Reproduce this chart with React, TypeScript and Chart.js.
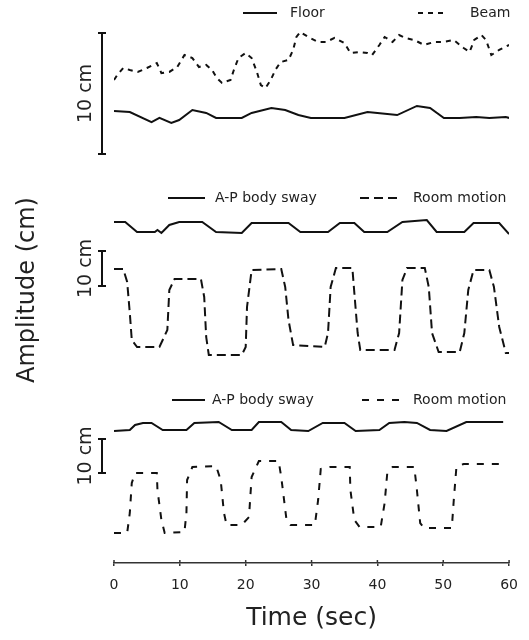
import React, { useEffect, useRef } from "react";
import { Chart, registerables } from "chart.js";

Chart.register(...registerables);

// ---------- Data (time in sec, amplitude in cm) ----------
// Panel 1
const floorTime = [0, 2.4, 5.7, 6.9, 8.7, 9.9, 11.9, 14.0, 15.5, 19.4, 20.9, 23.9, 26.0, 28.0, 29.9, 32.9, 35.0, 38.5, 40.0, 43.0, 46.0, 48.0, 50.1, 52.5, 55.0, 57.0, 59.5, 60];
const floorCm = [3.55, 3.47, 2.64, 2.98, 2.56, 2.81, 3.64, 3.39, 2.98, 2.98, 3.39, 3.8, 3.64, 3.22, 2.98, 2.98, 2.98, 3.47, 3.39, 3.22, 3.97, 3.8, 2.98, 2.98, 3.06, 2.98, 3.06, 2.98];

const beamTime = [0, 0.5, 1.4, 2.4, 3.6, 5.0, 6.5, 7.2, 8.4, 9.6, 10.7, 11.9, 12.9, 14.0, 14.9, 15.6, 16.4, 17.7, 18.2, 18.9, 20.0, 20.9, 21.7, 22.3, 23.0, 23.8, 24.5, 25.3, 26.5, 27.2, 27.7, 28.3, 29.5, 31.0, 32.2, 33.5, 35.0, 35.9, 37.3, 38.5, 39.2, 40.3, 41.1, 42.3, 43.3, 44.2, 45.6, 47.1, 48.6, 50.1, 51.6, 53.1, 54.0, 54.7, 55.8, 56.5, 57.3, 58.5, 60];
const beamCm = [6.12, 6.53, 7.11, 6.94, 6.78, 7.11, 7.52, 6.69, 6.78, 7.19, 8.18, 7.93, 7.19, 7.36, 6.94, 6.28, 5.87, 6.12, 6.94, 7.93, 8.35, 7.93, 6.78, 5.7, 5.45, 6.12, 6.94, 7.6, 7.77, 8.6, 9.67, 10.08, 9.67, 9.26, 9.26, 9.59, 9.17, 8.35, 8.43, 8.35, 8.18, 9.01, 9.67, 9.26, 9.83, 9.59, 9.42, 9.01, 9.26, 9.26, 9.42, 8.76, 8.43, 9.42, 9.83, 9.42, 8.18, 8.6, 9.01];

// Panel 2
const sway2Time = [0, 1.7, 3.5, 6.2, 6.6, 7.2, 8.4, 9.9, 13.4, 15.5, 19.4, 20.9, 26.5, 28.3, 32.5, 34.3, 36.5, 38.0, 41.5, 43.8, 47.5, 49.0, 53.2, 54.6, 58.5, 60];
const sway2Cm = [18.29, 18.29, 15.43, 15.43, 16.0, 15.14, 17.43, 18.29, 18.29, 15.43, 15.14, 18.0, 18.0, 15.43, 15.43, 18.0, 18.0, 15.43, 15.43, 18.29, 18.86, 15.43, 15.43, 18.0, 18.0, 14.86];

const room2Time = [0, 1.4, 2.0, 2.4, 2.7, 3.5, 6.9, 8.1, 8.4, 9.2, 13.2, 13.7, 14.0, 14.4, 19.4, 20.0, 20.2, 20.9, 25.4, 26.0, 26.5, 27.2, 32.0, 32.5, 32.9, 33.7, 36.2, 36.5, 37.0, 37.4, 42.6, 43.3, 43.8, 44.5, 47.2, 47.8, 48.3, 49.3, 52.5, 53.2, 53.8, 54.6, 57.0, 57.7, 58.5, 59.5, 60];
const room2Cm = [4.86, 4.86, 1.14, -7.71, -15.43, -17.43, -17.43, -12.57, -1.14, 2.0, 2.0, -3.14, -14.57, -19.71, -19.71, -17.43, -6.0, 4.57, 4.86, -0.29, -9.71, -16.86, -17.43, -13.43, -0.29, 5.14, 5.14, -2.0, -13.43, -18.29, -18.29, -13.43, 1.71, 5.14, 5.14, -0.29, -13.43, -18.86, -18.86, -13.43, -1.14, 4.57, 4.57, -0.29, -11.71, -19.14, -19.14];

// Panel 3
const sway3Time = [0, 2.4, 3.2, 4.4, 5.7, 7.4, 11.0, 12.2, 15.9, 17.9, 20.9, 22.0, 25.4, 26.9, 29.5, 31.7, 35.0, 36.7, 40.3, 41.8, 44.1, 46.0, 48.0, 50.5, 53.5, 59.1];
const sway3Cm = [12.35, 12.65, 14.12, 14.71, 14.71, 12.65, 12.65, 14.71, 15.0, 12.65, 12.65, 15.0, 15.0, 12.65, 12.35, 14.71, 14.71, 12.35, 12.65, 14.71, 15.0, 14.71, 12.65, 12.35, 15.0, 15.0];

const room3Time = [0, 2.0, 2.4, 2.7, 3.2, 6.5, 6.6, 7.2, 7.7, 10.7, 11.0, 11.1, 11.9, 15.5, 16.2, 16.7, 17.1, 19.4, 20.5, 20.9, 22.0, 25.0, 25.4, 26.2, 26.8, 30.5, 31.0, 31.4, 32.8, 35.8, 35.9, 36.5, 37.3, 40.5, 41.1, 41.5, 42.3, 45.6, 46.0, 46.5, 47.1, 51.3, 51.6, 52.0, 53.1, 59.1];
const room3Cm = [-17.65, -17.65, -11.76, -2.94, 0, 0, -5.0, -13.82, -17.65, -17.35, -11.76, -2.06, 1.76, 2.06, -2.06, -11.76, -15.29, -15.29, -12.94, -1.18, 3.53, 3.53, -1.18, -13.82, -15.29, -15.29, -7.94, 1.18, 1.76, 1.76, -5.0, -13.82, -15.88, -15.88, -8.82, 0, 1.76, 1.76, -5.0, -14.71, -16.18, -16.18, -7.94, 1.76, 2.65, 2.65];

const xTicksStep = 10;
const scaleBarCm = [0, 10];
const scaleBarLabel = "10 cm";
const yTitle = "Amplitude (cm)";
const xTitle = "Time (sec)";

// ---------- Layout (pixels) ----------
const W = 529;
const H = 640;
const AREA_TOP = 20;
const AREA_LEFT = 114;
const AREA_RIGHT = 513;
const X_AXIS_HEIGHT = 77;
const AREA_BOTTOM = H - X_AXIS_HEIGHT;

// each panel: pixel of 0 cm, pixels per cm
const PANELS = [
  { id: "y1", zeroPx: 154, pxPerCm: 12.1 },
  { id: "y2", zeroPx: 286, pxPerCm: 3.5 },
  { id: "y3", zeroPx: 473, pxPerCm: 3.4 },
];

const LEGENDS = [
  { y: 13, items: [{ ds: 0, x1: 243, x2: 277, tx: 290 }, { ds: 1, x1: 418, x2: 447, tx: 470 }] },
  { y: 198, items: [{ ds: 2, x1: 168, x2: 205, tx: 215 }, { ds: 3, x1: 360, x2: 397, tx: 413 }] },
  { y: 400, items: [{ ds: 4, x1: 172, x2: 205, tx: 212 }, { ds: 5, x1: 362, x2: 405, tx: 413 }] },
];

const FONT = "'DejaVu Sans', 'Noto Sans', sans-serif";
const INK = "#111";
const TEXT = "#222";
const BAR_X = 102;
const BAR_LABEL_X = 86;

const zip = (t: number[], v: number[]) => t.map((x, i) => ({ x, y: v[i] }));

const range = (p: { zeroPx: number; pxPerCm: number }) => ({
  min: (p.zeroPx - AREA_BOTTOM) / p.pxPerCm,
  max: (p.zeroPx - AREA_TOP) / p.pxPerCm,
});

const panelsPlugin = {
  id: "panelsPlugin",
  afterDraw(chart: any) {
    const ctx = chart.ctx as CanvasRenderingContext2D;
    ctx.save();

    // upward half of x tick marks
    const xs = chart.scales.x;
    ctx.strokeStyle = "#333";
    ctx.lineWidth = 1.5;
    ctx.setLineDash([]);
    xs.ticks.forEach((t: any) => {
      const px = xs.getPixelForValue(t.value);
      ctx.beginPath();
      ctx.moveTo(px, xs.top - 3);
      ctx.lineTo(px, xs.top);
      ctx.stroke();
    });

    // panel legends
    LEGENDS.forEach((lg) => {
      lg.items.forEach((it) => {
        const ds = chart.data.datasets[it.ds];
        ctx.strokeStyle = ds.borderColor;
        ctx.lineWidth = ds.borderWidth;
        ctx.setLineDash(ds.borderDash || []);
        ctx.beginPath();
        ctx.moveTo(it.x1, lg.y);
        ctx.lineTo(it.x2, lg.y);
        ctx.stroke();
        ctx.setLineDash([]);
        ctx.fillStyle = TEXT;
        ctx.font = `14px ${FONT}`;
        ctx.textAlign = "left";
        ctx.textBaseline = "middle";
        ctx.fillText(ds.label, it.tx, lg.y);
      });
    });

    // scale bars
    PANELS.forEach((p) => {
      const s = chart.scales[p.id];
      const a = s.getPixelForValue(scaleBarCm[0]);
      const b = s.getPixelForValue(scaleBarCm[1]);
      ctx.strokeStyle = INK;
      ctx.lineWidth = 2;
      ctx.beginPath();
      ctx.moveTo(BAR_X, a);
      ctx.lineTo(BAR_X, b);
      ctx.moveTo(BAR_X - 4, a);
      ctx.lineTo(BAR_X + 4, a);
      ctx.moveTo(BAR_X - 4, b);
      ctx.lineTo(BAR_X + 4, b);
      ctx.stroke();
      ctx.save();
      ctx.translate(BAR_LABEL_X, (a + b) / 2);
      ctx.rotate(-Math.PI / 2);
      ctx.fillStyle = TEXT;
      ctx.font = `19px ${FONT}`;
      ctx.textAlign = "center";
      ctx.textBaseline = "middle";
      ctx.fillText(scaleBarLabel, 0, 0);
      ctx.restore();
    });

    // overall y title
    ctx.save();
    ctx.translate(28, 290);
    ctx.rotate(-Math.PI / 2);
    ctx.fillStyle = TEXT;
    ctx.font = `24px ${FONT}`;
    ctx.textAlign = "center";
    ctx.textBaseline = "middle";
    ctx.fillText(yTitle, 0, 0);
    ctx.restore();

    ctx.restore();
  },
};

export default function App() {
  const ref = useRef<HTMLCanvasElement>(null);

  useEffect(() => {
    if (!ref.current) return;
    const line = (label: string, t: number[], v: number[], axis: string, dash: number[]) => ({
      label,
      data: zip(t, v),
      yAxisID: axis,
      borderColor: INK,
      borderWidth: 2,
      borderDash: dash,
      pointRadius: 0,
      tension: 0,
      fill: false,
    });
    const yAxis = (p: any) => ({
      type: "linear" as const,
      display: false,
      ...range(p),
    });

    const chart = new Chart(ref.current, {
      type: "line",
      data: {
        datasets: [
          line("Floor", floorTime, floorCm, "y1", []),
          line("Beam", beamTime, beamCm, "y1", [5, 5]),
          line("A-P body sway", sway2Time, sway2Cm, "y2", []),
          line("Room motion", room2Time, room2Cm, "y2", [9, 5]),
          line("A-P body sway", sway3Time, sway3Cm, "y3", []),
          line("Room motion", room3Time, room3Cm, "y3", [7, 8]),
        ],
      },
      options: {
        responsive: false,
        animation: false,
        layout: { padding: { top: AREA_TOP, left: AREA_LEFT, right: W - AREA_RIGHT, bottom: 0 } },
        plugins: { legend: { display: false }, tooltip: { enabled: false } },
        scales: {
          x: {
            type: "linear",
            min: 0,
            max: 60,
            afterFit: (scale: any) => {
              scale.height = X_AXIS_HEIGHT;
            },
            ticks: { stepSize: xTicksStep, color: TEXT, font: { family: FONT, size: 14 }, padding: 11 },
            grid: { display: true, drawOnChartArea: false, drawTicks: true, tickLength: 3, color: "#333", lineWidth: 1.5 },
            border: { display: true, color: "#333", width: 1.5 },
            title: { display: true, text: xTitle, color: TEXT, font: { family: FONT, size: 25 }, padding: { top: 0, bottom: 7 } },
          },
          y1: yAxis(PANELS[0]),
          y2: yAxis(PANELS[1]),
          y3: yAxis(PANELS[2]),
        },
      } as any,
      plugins: [panelsPlugin],
    });
    return () => chart.destroy();
  }, []);

  return (
    <div style={{ position: "fixed", left: 0, top: 0, width: W, height: H, background: "#fff" }}>
      <canvas ref={ref} width={W} height={H} style={{ display: "block" }} />
    </div>
  );
}
